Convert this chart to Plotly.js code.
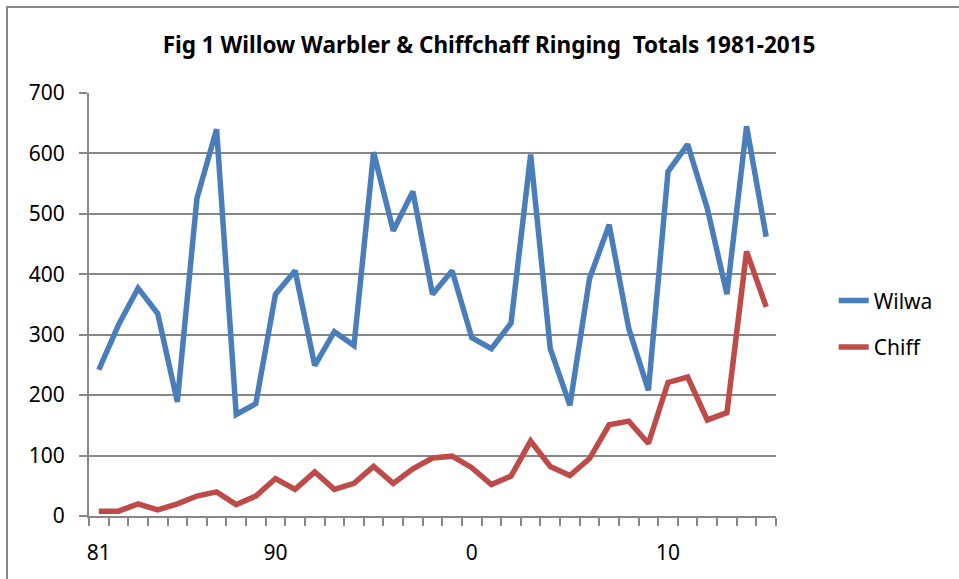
<!DOCTYPE html>
<html>
<head>
<meta charset="utf-8">
<script src="https://cdn.plot.ly/plotly-3.0.1.min.js"></script>
<style>
  html, body { margin: 0; padding: 0; background: #fff; overflow: hidden; }
  #wrap { position: relative; width: 959px; height: 579px; }
  #frame { position: absolute; left: 6px; top: 6px; width: 1000px; height: 1000px; border: 2px solid #878787; box-sizing: border-box; pointer-events: none; z-index: 5; }
  #chart { position: absolute; left: 0; top: 0; width: 959px; height: 579px; }
</style>
</head>
<body>
<div id="wrap">
  <div id="chart"></div>
  <div id="frame"></div>
</div>
<script>
const years = [1981,1982,1983,1984,1985,1986,1987,1988,1989,1990,
               1991,1992,1993,1994,1995,1996,1997,1998,1999,2000,
               2001,2002,2003,2004,2005,2006,2007,2008,2009,2010,
               2011,2012,2013,2014,2015];
const wilwa = [242,316,377,335,189,526,640,168,186,367,
               406,249,305,282,602,472,537,367,406,295,
               277,319,598,277,183,393,482,310,208,570,
               615,509,367,645,462];
const chiff = [8,8,20,10,20,33,40,19,33,62,
               44,73,44,54,82,54,78,96,99,80,
               52,66,124,82,67,95,151,157,120,221,
               230,159,171,438,346];
const tickYears = [1981,1990,2000,2010];
const tickLabels = ['81','90','0','10'];

const font = 'Noto Sans, Open Sans, sans-serif';
const data = [
  { x: years, y: wilwa, name: 'Wilwa', type: 'scatter', mode: 'lines', legendgroup: 'a',
    line: { color: '#4A7EBB', width: 5.5 } },
  { x: years, y: chiff, name: 'Chiff', type: 'scatter', mode: 'lines', legendgroup: 'b',
    line: { color: '#BE4B48', width: 5.5 } }
];
const layout = {
  width: 959, height: 579,
  margin: { l: 89, r: 183, t: 93, b: 63 },
  paper_bgcolor: '#fff', plot_bgcolor: '#fff',
  font: { family: font, size: 21, color: '#000' },
  title: { text: '<b>Fig 1 Willow Warbler & Chiffchaff Ringing  Totals 1981-2015</b>',
           font: { family: font, size: 22.5, color: '#000' },
           x: 489/959, xref: 'container', xanchor: 'center', y: 1 - 45/579, yanchor: 'middle' },
  xaxis: {
    range: [1980.5, 2015.5], showgrid: false, zeroline: false,
    showline: true, linecolor: '#878787', linewidth: 2,
    tickmode: 'array', tickvals: tickYears, ticktext: tickLabels,
    ticks: '', ticklabelstandoff: 17,
    tickfont: { family: font, size: 21, color: '#000' },
    minor: { tickmode: 'linear', tick0: 0.5, dtick: 1, ticks: 'outside', ticklen: 8,
             tickcolor: '#878787', tickwidth: 2, showgrid: false }
  },
  yaxis: {
    range: [0, 700], dtick: 100, tick0: 0,
    showgrid: true, gridcolor: '#878787', gridwidth: 2,
    zeroline: false, showline: true, linecolor: '#878787', linewidth: 2,
    ticks: 'outside', ticklen: 8, tickcolor: '#878787', tickwidth: 2,
    ticklabelstandoff: 10,
    tickfont: { family: font, size: 21, color: '#000' }
  },
  legend: {
    x: 1.084, y: 0.454, xanchor: 'left', yanchor: 'middle',
    font: { family: font, size: 21, color: '#000' },
    tracegroupgap: 16, bgcolor: 'rgba(0,0,0,0)'
  },
  showlegend: true
};
Plotly.newPlot('chart', data, layout, { staticPlot: true, displayModeBar: false });
</script>
</body>
</html>
